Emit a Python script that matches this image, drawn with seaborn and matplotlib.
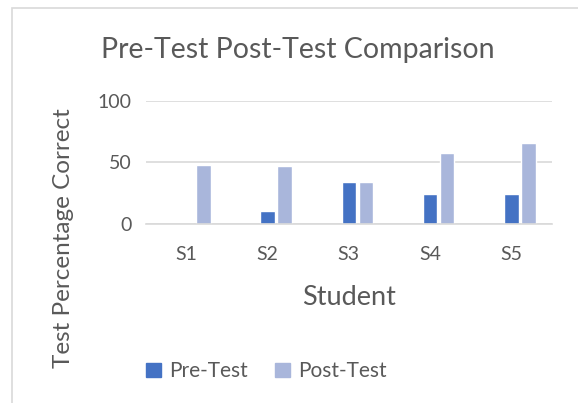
import numpy as np
import pandas as pd
import seaborn as sns
import matplotlib.pyplot as plt
from matplotlib.patches import Patch, Rectangle

# Data
students = ["S1", "S2", "S3", "S4", "S5"]
pre_test = [0, 11, 34, 24, 24]
post_test = [48, 47, 34, 58, 66]

pre_color = "#4472C4"
post_color = "#A9B6DB"
text_color = "#595959"

df = pd.DataFrame({
    "Student": students * 2,
    "Score": pre_test + post_test,
    "Test": ["Pre-Test"] * len(students) + ["Post-Test"] * len(students),
})

sns.set_style("white")
plt.rcParams["font.family"] = ["Lato", "DejaVu Sans"]

fig = plt.figure(figsize=(5.78, 4.03), dpi=100)
ax = fig.add_axes([0.252, 0.444, 0.703, 0.306])

# Excel leaves an empty slot on the left, so the pre-test bar sits on the category centre
sns.barplot(data=df, x="Student", y="Score", hue="Test",
            hue_order=["blank", "Pre-Test", "Post-Test"],
            palette={"blank": "white", "Pre-Test": pre_color, "Post-Test": post_color},
            width=0.63, gap=0.15, order=students, legend=False, ax=ax,
            saturation=1, errorbar=None)

ax.set_ylim(0, 100)
ax.set_yticks([0, 50, 100])
ax.set_xlim(-0.5, 4.5)
ax.grid(axis="y", color="#D9D9D9", linewidth=1.2)
ax.set_axisbelow(True)
for side in ["top", "right", "left"]:
    ax.spines[side].set_visible(False)
ax.spines["bottom"].set_color("#D9D9D9")
ax.spines["bottom"].set_linewidth(1.2)
ax.tick_params(axis="both", length=0, labelsize=14, colors=text_color)
ax.tick_params(axis="x", pad=16)
ax.tick_params(axis="y", pad=10)
ax.set_xlabel("")
ax.set_ylabel("")

fig.text(0.515, 0.876, "Pre-Test Post-Test Comparison", ha="center", va="center",
         fontsize=20.5, color=text_color)
fig.text(0.604, 0.263, "Student", ha="center", va="center",
         fontsize=19.5, color=text_color)
fig.text(0.109, 0.409, "Test Percentage Correct", ha="center", va="center",
         rotation=90, fontsize=17.5, color=text_color)

handles = [Patch(color=pre_color, label="Pre-Test"),
           Patch(color=post_color, label="Post-Test")]
fig.legend(handles=handles, loc="center", bbox_to_anchor=(0.461, 0.079), ncol=2,
           frameon=False, fontsize=15, handlelength=0.7, handleheight=0.7,
           handletextpad=0.4, columnspacing=1.3, labelcolor=text_color)

# chart border
fig.patches.append(Rectangle((12 / 578, -0.1), 1.2, 1.1 - 8 / 403,
                             transform=fig.transFigure, fill=False,
                             edgecolor="#D9D9D9", linewidth=1.2))

fig.savefig("out.png", dpi=100, facecolor="white")
